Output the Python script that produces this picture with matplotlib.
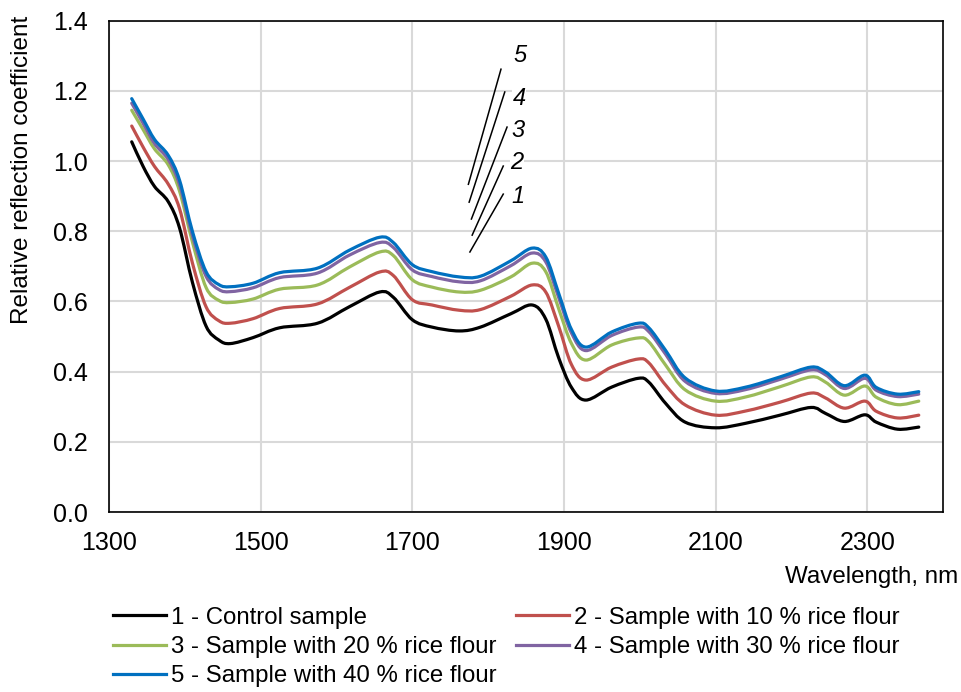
import numpy as np
import matplotlib
matplotlib.use("Agg")
import matplotlib.pyplot as plt
from matplotlib.path import Path
from matplotlib.patches import PathPatch
from matplotlib.lines import Line2D

plt.rcParams['font.family'] = ['Liberation Sans', 'DejaVu Sans']

# --- data ---
wavelength = [1330, 1345, 1360, 1378, 1393, 1410, 1428, 1445, 1460, 1490,
              1525, 1575, 1617, 1657, 1675, 1700, 1726, 1762, 1790, 1830,
              1858, 1876, 1893, 1910, 1929, 1963, 1998, 2012, 2034, 2060,
              2100, 2140, 2185, 2226, 2245, 2270, 2297, 2312, 2340, 2368]

control = [1.055, 0.985, 0.928, 0.885, 0.810, 0.655, 0.530, 0.490, 0.480, 0.497,
           0.525, 0.538, 0.585, 0.627, 0.612, 0.548, 0.527, 0.516, 0.527, 0.565,
           0.590, 0.550, 0.440, 0.355, 0.319, 0.356, 0.381, 0.370, 0.310, 0.256,
           0.240, 0.253, 0.276, 0.298, 0.281, 0.258, 0.277, 0.256, 0.236, 0.242]

rice10 = [1.100, 1.040, 0.985, 0.935, 0.865, 0.710, 0.585, 0.545, 0.538, 0.551,
          0.580, 0.593, 0.640, 0.684, 0.674, 0.605, 0.590, 0.575, 0.577, 0.615,
          0.647, 0.627, 0.530, 0.420, 0.376, 0.413, 0.436, 0.425, 0.362, 0.305,
          0.276, 0.288, 0.313, 0.339, 0.325, 0.296, 0.316, 0.287, 0.268, 0.276]

rice20 = [1.145, 1.090, 1.035, 0.990, 0.915, 0.770, 0.640, 0.603, 0.597, 0.607,
          0.635, 0.647, 0.698, 0.741, 0.731, 0.662, 0.641, 0.627, 0.632, 0.670,
          0.709, 0.685, 0.580, 0.480, 0.433, 0.476, 0.496, 0.485, 0.419, 0.348,
          0.316, 0.328, 0.357, 0.385, 0.370, 0.333, 0.359, 0.327, 0.306, 0.316]

rice30 = [1.165, 1.108, 1.050, 1.005, 0.933, 0.788, 0.672, 0.634, 0.628, 0.639,
          0.668, 0.681, 0.732, 0.768, 0.754, 0.690, 0.671, 0.656, 0.659, 0.702,
          0.738, 0.713, 0.612, 0.510, 0.460, 0.503, 0.527, 0.514, 0.450, 0.372,
          0.338, 0.349, 0.378, 0.405, 0.391, 0.352, 0.381, 0.347, 0.329, 0.336]

rice40 = [1.178, 1.120, 1.062, 1.017, 0.946, 0.800, 0.685, 0.648, 0.642, 0.652,
          0.682, 0.695, 0.746, 0.783, 0.768, 0.705, 0.685, 0.670, 0.672, 0.716,
          0.752, 0.727, 0.624, 0.520, 0.470, 0.513, 0.538, 0.525, 0.461, 0.382,
          0.345, 0.356, 0.385, 0.413, 0.399, 0.360, 0.390, 0.355, 0.336, 0.343]

series = [control, rice10, rice20, rice30, rice40]
labels = ['1 - Control sample',
          '2 - Sample with 10 % rice flour',
          '3 - Sample with 20 % rice flour',
          '4 - Sample with 30 % rice flour',
          '5 - Sample with 40 % rice flour']
colors = ['#000000', '#C0504D', '#9BBB59', '#8064A2', '#0070C0']

# callout numbers: label position and leader line ends (data units)
tag_text = ['1', '2', '3', '4', '5']
tag_pos = [(1839, 0.900), (1838, 0.997), (1839, 1.088), (1841, 1.179), (1842, 1.302)]
tag_line = [((1776, 0.741), (1820, 0.906)),
            ((1779, 0.789), (1820, 0.986)),
            ((1778, 0.835), (1825, 1.097)),
            ((1775, 0.883), (1822, 1.197)),
            ((1774, 0.934), (1817, 1.262))]


def smooth_path(x, y):
    # Excel-like smoothed line: Catmull-Rom segments as cubic Beziers
    pts = np.column_stack([x, y]).astype(float)
    n = len(pts)
    verts = [pts[0]]
    codes = [Path.MOVETO]
    for i in range(n - 1):
        p0 = pts[max(i - 1, 0)]
        p1 = pts[i]
        p2 = pts[i + 1]
        p3 = pts[min(i + 2, n - 1)]
        verts += [p1 + (p2 - p0) / 6, p2 - (p3 - p1) / 6, p2]
        codes += [Path.CURVE4] * 3
    return Path(verts, codes)


fig = plt.figure(figsize=(9.61, 6.92), dpi=100)
ax = fig.add_axes([0.1134, 0.2601, 0.8679, 0.7099])

for vals, col in zip(series, colors):
    ax.add_patch(PathPatch(smooth_path(wavelength, vals), facecolor='none',
                           edgecolor=col, lw=2.3, capstyle='round', zorder=3))

for (x0, y0), (x1, y1) in tag_line:
    ax.plot([x0, x1], [y0, y1], color='black', lw=1.1, zorder=4)
for t, (tx, ty) in zip(tag_text, tag_pos):
    ax.text(tx, ty, t, fontsize=17, style='italic', ha='center', va='center',
            bbox=dict(facecolor='white', edgecolor='none', pad=0.5), zorder=5)

ax.set_xlim(1300, 2400)
ax.set_ylim(0, 1.4)
ax.set_xticks(np.arange(1300, 2400, 200))
ax.set_yticks(np.arange(0, 1.41, 0.2))
ax.yaxis.set_major_formatter(matplotlib.ticker.FormatStrFormatter('%.1f'))
ax.tick_params(length=0, labelsize=18)
ax.tick_params(axis='x', pad=14)
ax.tick_params(axis='y', pad=15)
ax.grid(True, color='#D9D9D9', lw=1.5)
ax.set_axisbelow(True)
for sp in ax.spines.values():
    sp.set_color('black')
    sp.set_linewidth(1.2)

fig.text(0.023, 1 - 170 / 692, 'Relative reflection coefficient', fontsize=17.5,
         rotation=90, ha='center', va='center')
fig.text(0.997, 0.166, 'Wavelength, nm', fontsize=17.4, ha='right', va='center')

# row-major order like the reference legend (matplotlib fills columns first)
order = [0, 2, 4, 1, 3]
handles = [Line2D([], [], color=colors[i], lw=2.3) for i in order]
fig.legend(handles, [labels[i] for i in order], ncol=2, frameon=False,
           fontsize=17.3, loc='upper left', bbox_to_anchor=(0.118, 0.123),
           handlelength=2.2, handletextpad=0.2, columnspacing=0.8,
           labelspacing=0.3, borderaxespad=0, borderpad=0)

fig.savefig('out.png', dpi=100)
